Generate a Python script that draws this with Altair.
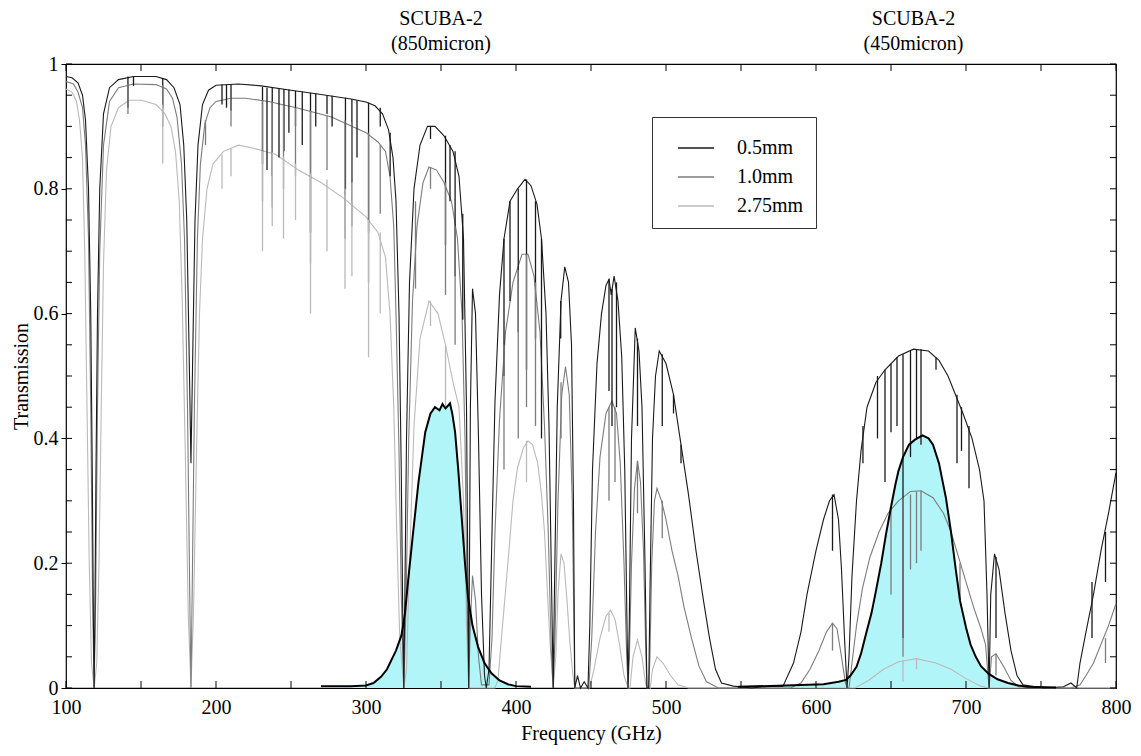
import altair as alt
import pandas as pd

FONT = "Liberation Serif"

series_names = ["0.5mm", "1.0mm", "2.75mm"]
series_colors = ["#1a1a1a", "#7c7c7c", "#bababa"]

# (frequency GHz, transmission) envelope
pwv_05 = [
    (100, 0.98), (104, 0.978), (108, 0.97), (111, 0.95), (113, 0.91), (115, 0.80), (116.5, 0.6),
    (117.5, 0.35), (118.3, 0.1), (118.75, 0.0), (119.2, 0.1), (120, 0.35), (121, 0.6), (122.5, 0.8),
    (125, 0.92), (129, 0.962), (135, 0.975), (145, 0.98), (160, 0.98), (167, 0.975), (172, 0.962),
    (176, 0.935), (178.5, 0.87), (180.5, 0.75), (182, 0.55), (183.3, 0.36), (184.6, 0.55), (186, 0.75),
    (188, 0.87), (191, 0.935), (195, 0.958), (200, 0.966), (215, 0.968), (230, 0.965), (250, 0.958),
    (270, 0.951), (290, 0.944), (300, 0.939), (306, 0.933), (311, 0.92), (315, 0.895), (318, 0.85),
    (320, 0.78), (322, 0.6), (323.5, 0.35), (324.5, 0.12), (325.2, 0.0), (325.8, 0.12), (327, 0.4),
    (329, 0.65), (332, 0.8), (336, 0.87), (341, 0.9), (346, 0.9), (352, 0.885), (358, 0.86), (362, 0.82),
    (365, 0.72), (367, 0.45), (368.5, 0.0), (369.6, 0.45), (371, 0.64), (373, 0.6), (375, 0.4),
    (377, 0.15), (379, 0.02), (380.2, 0.0), (382, 0.03), (384, 0.25), (386, 0.46), (389, 0.63),
    (392, 0.72), (396, 0.78), (401, 0.8), (406, 0.815), (410, 0.805), (414, 0.775), (417, 0.72),
    (420, 0.6), (422, 0.42), (423.8, 0.15), (424.8, 0.0), (425.6, 0.15), (427.5, 0.45), (430, 0.62),
    (432.5, 0.675), (435, 0.65), (437, 0.55), (438.3, 0.3), (439.2, 0.0), (441, 0.02), (443, 0.0),
    (445.5, 0.01), (448, 0.0), (449.2, 0.1), (451, 0.35), (454, 0.52), (457, 0.6), (460, 0.645),
    (462, 0.655), (463.5, 0.63), (465.4, 0.66), (468, 0.62), (470.5, 0.53), (472.5, 0.35), (474, 0.1),
    (474.7, 0.0), (475.5, 0.1), (477, 0.4), (479.5, 0.577), (482, 0.54), (484, 0.45), (486, 0.2),
    (487.3, 0.0), (488.5, 0.0), (489.3, 0.15), (491, 0.4), (493, 0.5), (495.5, 0.54), (500, 0.52),
    (505, 0.47), (510, 0.39), (515, 0.31), (520, 0.22), (525, 0.14), (529, 0.08), (533, 0.03),
    (537, 0.008), (545, 0.003), (557, 0.0), (565, 0.002), (578, 0.003), (585, 0.04), (590, 0.09),
    (594, 0.15), (600, 0.22), (605, 0.27), (609, 0.30), (612, 0.31), (615, 0.27), (617, 0.19),
    (619, 0.08), (620.7, 0.0), (622, 0.05), (624, 0.18), (627, 0.3), (630, 0.38), (634, 0.45),
    (640, 0.49), (646, 0.51), (655, 0.532), (665, 0.543), (675, 0.54), (682, 0.525), (688, 0.5),
    (693, 0.47), (698, 0.44), (704, 0.40), (709, 0.35), (712, 0.30), (714, 0.15), (715.4, 0.0),
    (716.5, 0.15), (719, 0.215), (722, 0.19), (726, 0.12), (730, 0.06), (734, 0.02), (738, 0.005),
    (752, 0.0), (765, 0.002), (770, 0.008), (773.8, 0.0), (776, 0.04), (780, 0.09), (785, 0.15),
    (790, 0.22), (795, 0.28), (800, 0.345),
]

pwv_10 = [
    (100, 0.972), (105, 0.968), (108, 0.955), (111, 0.93), (113, 0.87), (115, 0.72), (116.5, 0.45),
    (117.7, 0.15), (118.75, 0.0), (119.8, 0.15), (121, 0.45), (122.5, 0.7), (125, 0.87), (129, 0.94),
    (135, 0.962), (145, 0.968), (160, 0.967), (167, 0.96), (171, 0.945), (174, 0.915), (177, 0.84),
    (179, 0.72), (181, 0.45), (182.5, 0.15), (183.3, 0.0), (184.1, 0.15), (185.6, 0.45), (187.6, 0.72),
    (189.6, 0.84), (192.6, 0.905), (196, 0.93), (200, 0.94), (210, 0.945), (220, 0.945), (235, 0.94),
    (255, 0.929), (277, 0.915), (300, 0.89), (308, 0.875), (313, 0.86), (316, 0.82), (318.5, 0.74),
    (320, 0.6), (322, 0.38), (323.5, 0.15), (325.2, 0.0), (326.8, 0.15), (328.5, 0.4), (331, 0.62),
    (334, 0.74), (338, 0.81), (342, 0.835), (347, 0.83), (352, 0.81), (357, 0.78), (361, 0.72),
    (364, 0.6), (366, 0.4), (367.5, 0.12), (368.5, 0.0), (369.5, 0.1), (371, 0.18), (373, 0.14),
    (375, 0.05), (377, 0.005), (382, 0.005), (384, 0.08), (386, 0.25), (389, 0.43), (393, 0.57),
    (398, 0.65), (404, 0.695), (408, 0.695), (412, 0.66), (416, 0.57), (419, 0.42), (421.5, 0.25),
    (423.5, 0.06), (424.8, 0.0), (426, 0.08), (428, 0.3), (430.5, 0.47), (433, 0.515), (435.5, 0.47),
    (437.5, 0.3), (439.2, 0.0), (448.5, 0.0), (450.5, 0.08), (453, 0.25), (456, 0.37), (460, 0.44),
    (464, 0.46), (467, 0.44), (469.5, 0.36), (472, 0.2), (473.8, 0.05), (474.7, 0.0), (475.6, 0.05),
    (477, 0.2), (479, 0.32), (481, 0.364), (483, 0.33), (485, 0.22), (486.5, 0.06), (487.3, 0.0),
    (488.5, 0.0), (489.3, 0.05), (490.5, 0.2), (492.3, 0.3), (494, 0.32), (497, 0.3), (500, 0.27),
    (504, 0.22), (508, 0.18), (512, 0.13), (517, 0.08), (522, 0.035), (527, 0.01), (535, 0.0),
    (583, 0.0), (590, 0.008), (596, 0.03), (602, 0.06), (607, 0.09), (611, 0.104), (614, 0.095),
    (617, 0.05), (619.5, 0.01), (620.7, 0.0), (622, 0.0), (624, 0.04), (627, 0.1), (631, 0.16),
    (636, 0.21), (642, 0.25), (648, 0.28), (655, 0.3), (663, 0.315), (670, 0.316), (678, 0.305),
    (685, 0.28), (690, 0.25), (695, 0.21), (700, 0.17), (705, 0.13), (710, 0.095), (713, 0.07),
    (715.4, 0.0), (717, 0.05), (720, 0.055), (725, 0.035), (730, 0.012), (735, 0.002), (752, 0.0),
    (770, 0.0), (776, 0.005), (780, 0.02), (785, 0.04), (790, 0.07), (795, 0.1), (800, 0.135),
]

pwv_275 = [
    (100, 0.96), (104, 0.955), (107, 0.94), (109, 0.91), (111, 0.85), (112.5, 0.7), (114, 0.45),
    (115.5, 0.2), (117, 0.04), (118.75, 0.0), (120.5, 0.04), (122, 0.2), (123.5, 0.45), (125, 0.68),
    (127, 0.83), (130, 0.9), (135, 0.93), (142, 0.942), (150, 0.942), (160, 0.935), (166, 0.92),
    (170, 0.9), (173, 0.86), (175.5, 0.78), (177.5, 0.62), (179.5, 0.38), (181.5, 0.12), (183.3, 0.0),
    (185, 0.12), (187, 0.38), (189, 0.6), (191, 0.72), (194, 0.8), (198, 0.84), (205, 0.86),
    (215, 0.87), (225, 0.865), (240, 0.855), (255, 0.83), (270, 0.81), (285, 0.785), (300, 0.755),
    (308, 0.73), (313, 0.69), (316, 0.6), (318.5, 0.45), (320.5, 0.25), (322.5, 0.08), (325.2, 0.0),
    (327, 0.03), (329, 0.2), (332, 0.42), (336, 0.56), (342, 0.62), (348, 0.6), (353, 0.55),
    (358, 0.49), (362, 0.45), (365, 0.3), (367, 0.1), (368.5, 0.0), (386, 0.0), (388, 0.013),
    (391, 0.1), (394.6, 0.2), (398, 0.3), (401, 0.353), (405, 0.385), (408, 0.396), (411, 0.39),
    (414.5, 0.36), (417, 0.31), (419, 0.25), (421, 0.15), (423, 0.06), (424.8, 0.0), (426.5, 0.05),
    (428, 0.15), (430, 0.215), (432, 0.2), (434, 0.14), (436, 0.07), (438, 0.02), (439.2, 0.0),
    (449, 0.0), (452, 0.03), (456, 0.08), (460, 0.115), (463, 0.125), (466, 0.11), (469, 0.07),
    (472, 0.02), (474.7, 0.0), (476, 0.0), (478, 0.05), (481, 0.077), (484, 0.05), (486.5, 0.005),
    (489.5, 0.0), (491, 0.03), (494, 0.05), (498, 0.04), (503, 0.02), (508, 0.005), (515, 0.0),
    (626, 0.0), (635, 0.012), (645, 0.03), (655, 0.042), (667, 0.047), (680, 0.04), (690, 0.03),
    (700, 0.015), (710, 0.003), (715, 0.0), (800, 0.0),
]

# narrow absorption lines: (frequency, envelope value, depth)
lines_05 = [
    (141.3, 0.98, 0.93), (145, 0.98, 0.965), (164.5, 0.977, 0.93), (204, 0.967, 0.935),
    (207, 0.967, 0.93), (210, 0.967, 0.925), (231, 0.963, 0.84), (234, 0.962, 0.83),
    (237.5, 0.962, 0.82), (242, 0.961, 0.85), (245.3, 0.96, 0.86), (248.6, 0.959, 0.89),
    (253, 0.957, 0.9), (257.5, 0.956, 0.87), (263, 0.954, 0.73), (266.5, 0.953, 0.9),
    (274, 0.95, 0.92), (277.4, 0.949, 0.9), (286.3, 0.946, 0.8), (290.6, 0.944, 0.81),
    (294, 0.942, 0.85), (301.7, 0.938, 0.73), (309.5, 0.93, 0.9), (316.1, 0.89, 0.82),
    (343, 0.9, 0.88), (353, 0.885, 0.71), (356, 0.87, 0.78), (359.4, 0.86, 0.66), (364.5, 0.76, 0.59),
    (392, 0.72, 0.5), (396, 0.78, 0.62), (401.5, 0.8, 0.57), (407, 0.815, 0.51), (413, 0.78, 0.56),
    (417, 0.72, 0.4), (429.8, 0.62, 0.56), (462, 0.655, 0.476), (464, 0.64, 0.42), (467, 0.65, 0.45),
    (481, 0.56, 0.42), (497.5, 0.535, 0.42), (505, 0.47, 0.44), (510, 0.39, 0.36),
    (611, 0.31, 0.22), (631.3, 0.42, 0.36), (641, 0.5, 0.4), (646, 0.51, 0.33), (650, 0.52, 0.41),
    (654, 0.53, 0.42), (658, 0.535, 0.08), (663, 0.54, 0.37), (667, 0.543, 0.4), (670, 0.543, 0.39),
    (680, 0.53, 0.51), (694, 0.47, 0.36), (697, 0.45, 0.38), (702, 0.42, 0.32), (720, 0.21, 0.08),
    (784, 0.17, 0.08), (793, 0.25, 0.17),
]

lines_10 = [
    (141.3, 0.968, 0.92), (164.5, 0.966, 0.9), (193, 0.91, 0.87), (210, 0.945, 0.9),
    (231, 0.942, 0.78), (237.5, 0.94, 0.77), (245, 0.935, 0.8), (253, 0.93, 0.82), (263, 0.925, 0.68),
    (274, 0.918, 0.83), (286, 0.91, 0.72), (290.6, 0.907, 0.74), (301.7, 0.89, 0.65),
    (309.5, 0.87, 0.76), (333, 0.78, 0.64), (343, 0.835, 0.8), (353, 0.81, 0.63), (359.4, 0.74, 0.55),
    (392, 0.55, 0.35), (401.5, 0.67, 0.4), (407, 0.695, 0.45), (413, 0.65, 0.42), (430, 0.49, 0.4),
    (462, 0.45, 0.3), (466, 0.45, 0.33), (481, 0.364, 0.28), (497.5, 0.3, 0.24), (611, 0.104, 0.06),
    (650, 0.29, 0.15), (658, 0.305, 0.05), (663, 0.31, 0.19), (667, 0.315, 0.2), (670, 0.316, 0.22),
    (696, 0.2, 0.14), (720, 0.055, 0.02), (793, 0.08, 0.04),
]

lines_275 = [
    (164.5, 0.935, 0.84), (204, 0.855, 0.8), (210, 0.865, 0.82), (231, 0.86, 0.7), (237.5, 0.858, 0.74),
    (245, 0.852, 0.72), (253, 0.84, 0.75), (263, 0.825, 0.6), (274, 0.815, 0.7), (286, 0.79, 0.64),
    (290.6, 0.78, 0.66), (301.7, 0.75, 0.53), (309.5, 0.73, 0.6), (343, 0.62, 0.58), (353, 0.55, 0.45),
    (407, 0.396, 0.33), (462, 0.12, 0.09), (658, 0.045, 0.01), (667, 0.047, 0.03),
]

# SCUBA-2 filter bandpasses
filter_850 = [
    (270, 0.003), (290, 0.003), (300, 0.004), (305, 0.008), (310, 0.018), (314, 0.03), (317, 0.045),
    (320, 0.06), (323.7, 0.085), (326, 0.12), (328, 0.17), (331, 0.24), (335, 0.33), (339.5, 0.41),
    (343, 0.44), (346, 0.45), (349, 0.445), (351, 0.455), (353, 0.448), (356, 0.456), (357.5, 0.44),
    (359.4, 0.41), (361.5, 0.35), (363.6, 0.28), (366, 0.2), (368, 0.146), (371, 0.1), (374.7, 0.066),
    (379, 0.04), (383.5, 0.024), (389, 0.012), (394.6, 0.006), (400, 0.003), (410, 0.002),
]
filter_450 = [
    (548, 0.002), (580, 0.004), (605, 0.006), (615, 0.01), (620, 0.013), (623, 0.02), (627, 0.034),
    (630, 0.055), (633.5, 0.088), (637, 0.12), (640, 0.156), (643.5, 0.2), (646.7, 0.247), (650, 0.29),
    (653, 0.327), (655, 0.348), (658, 0.37), (662, 0.39), (666, 0.398), (671, 0.405), (675, 0.4),
    (678, 0.39), (682, 0.36), (684.5, 0.33), (686.6, 0.305), (690, 0.25), (693, 0.193), (696, 0.14),
    (700, 0.097), (703, 0.07), (706.5, 0.05), (710, 0.035), (715, 0.023), (721, 0.014), (728, 0.008),
    (735, 0.004), (741, 0.002), (760, 0.001),
]

x_label_values = [100, 200, 300, 400, 500, 600, 700, 800]
x_tick_values = [100, 150, 200, 250, 300, 350, 400, 450, 500, 550, 600, 650, 700, 750, 800]
y_label_values = [0, 0.2, 0.4, 0.6, 0.8, 1.0]
y_tick_values = [0, 0.05, 0.1, 0.15, 0.2, 0.25, 0.3, 0.35, 0.4, 0.45, 0.5, 0.55, 0.6, 0.65, 0.7,
                 0.75, 0.8, 0.85, 0.9, 0.95, 1.0]
band_centers = [350, 665]
band_names = ["SCUBA-2", "SCUBA-2"]
band_waves = ["(850micron)", "(450micron)"]

W, H = 1050, 624

curve_frames = {
    name: pd.DataFrame(pts, columns=["freq", "T"]).assign(series=name)
    for name, pts in zip(series_names, [pwv_05, pwv_10, pwv_275])
}
lines_df = pd.concat([
    pd.DataFrame(pts, columns=["freq", "top", "bottom"]).assign(series=name)
    for name, pts in zip(series_names, [lines_05, lines_10, lines_275])
])
filters_df = pd.concat([
    pd.DataFrame(filter_850, columns=["freq", "T"]).assign(band="850"),
    pd.DataFrame(filter_450, columns=["freq", "T"]).assign(band="450"),
])
xt_df = pd.DataFrame({"freq": x_tick_values})
yt_df = pd.DataFrame({"T": y_tick_values})
titles_df = pd.DataFrame({"freq": band_centers, "name": band_names, "wave": band_waves})

xscale = alt.Scale(domain=[100, 800], nice=False, zero=False)
yscale = alt.Scale(domain=[0, 1], nice=False, zero=False)
xaxis = alt.Axis(values=x_label_values, format="d", ticks=False, domain=False, grid=False,
                 labelFont=FONT, labelFontSize=20, labelColor="black", labelPadding=9,
                 titleFont=FONT, titleFontSize=20, titleFontWeight="normal", titleColor="black",
                 titlePadding=6, labelFlush=False)
yaxis = alt.Axis(values=y_label_values, format="~g", tickSize=5, tickColor="black", domain=False,
                 grid=False, labelFont=FONT, labelFontSize=20, labelColor="black", labelPadding=3,
                 titleFont=FONT, titleFontSize=20, titleFontWeight="normal", titleColor="black",
                 titlePadding=2, labelFlush=False)


def X(field="freq"):
    return alt.X(f"{field}:Q", scale=xscale, axis=xaxis, title="Frequency (GHz)")


def Y(field="T"):
    return alt.Y(f"{field}:Q", scale=yscale, axis=yaxis, title="Transmission", stack=None)


color = alt.Color(
    "series:N",
    scale=alt.Scale(domain=series_names, range=series_colors),
    legend=alt.Legend(orient="none", legendX=586, legendY=53, title=None, symbolType="stroke",
                      symbolSize=1296, symbolStrokeWidth=1.5, labelFont=FONT, labelFontSize=20,
                      labelColor="black", strokeColor="#333333", fillColor="white", padding=12,
                      symbolOffset=13, rowPadding=0, labelOffset=22),
)

fill = alt.Chart(filters_df).mark_area(color="#b2f5f8", opacity=1).encode(
    x=X(), y=Y(), detail="band:N")

curve_layers = [
    alt.Chart(curve_frames[name]).mark_line(strokeWidth=1.1).encode(x=X(), y=Y(), color=color)
    for name in ["2.75mm", "1.0mm", "0.5mm"]
]

spikes = alt.Chart(lines_df).mark_rule(strokeWidth=1.3).encode(
    x=X(), y=Y("top"), y2="bottom:Q", color=color)

outline = alt.Chart(filters_df).mark_line(color="black", strokeWidth=2).encode(
    x=X(), y=Y(), detail="band:N")

tick_bottom = alt.Chart(xt_df).mark_rule(color="black").encode(
    x=X(), y=alt.value(H), y2=alt.value(H - 7))
tick_top = alt.Chart(xt_df).mark_rule(color="black").encode(
    x=X(), y=alt.value(0), y2=alt.value(7))
tick_left = alt.Chart(yt_df).mark_rule(color="black").encode(
    y=Y(), x=alt.value(0), x2=alt.value(6))
tick_right = alt.Chart(yt_df).mark_rule(color="black").encode(
    y=Y(), x=alt.value(W), x2=alt.value(W - 6))

title1 = alt.Chart(titles_df).mark_text(font=FONT, fontSize=20, color="black").encode(
    x=X(), y=alt.value(-45), text="name:N")
title2 = alt.Chart(titles_df).mark_text(font=FONT, fontSize=20, color="black").encode(
    x=X(), y=alt.value(-20), text="wave:N")

chart = alt.layer(
    fill, *curve_layers, spikes, outline, tick_bottom, tick_top, tick_left, tick_right, title1, title2
).properties(
    width=W, height=H,
    padding={"left": 58, "top": 56, "right": 17, "bottom": 58},
    autosize=alt.AutoSizeParams(type="none"),
).configure_view(stroke="black", strokeWidth=1.2)

chart.save("out.html", embed_options={"renderer": "svg", "actions": False})
